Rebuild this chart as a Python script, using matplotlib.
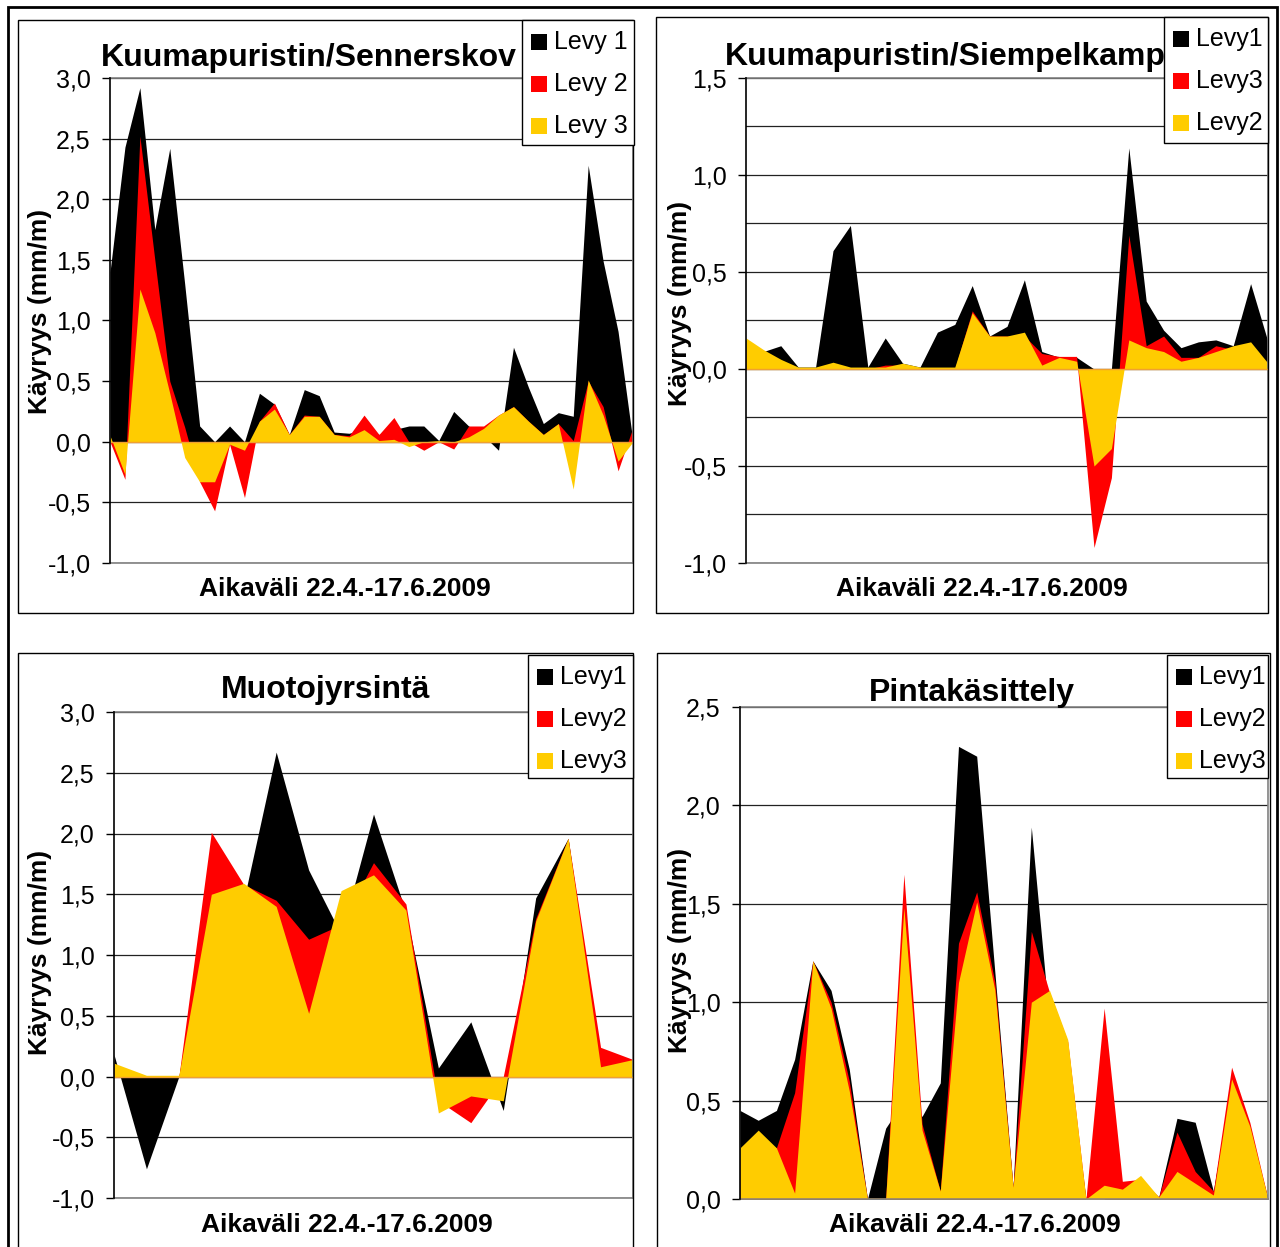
import matplotlib.pyplot as plt
from matplotlib.patches import Rectangle
import numpy as np

plt.rcParams['font.family'] = ['Liberation Sans', 'DejaVu Sans']

# Kuumapuristin/Sennerskov
sen_levy1 = [1.40, 2.43, 2.92, 1.75, 2.42, 1.30, 0.13, 0.00, 0.13, 0.00, 0.40, 0.31, 0.06, 0.43, 0.38, 0.08, 0.07, 0.10,
             0.06, 0.10, 0.13, 0.13, 0.01, 0.25, 0.13, 0.05, -0.07, 0.78, 0.45, 0.15, 0.24, 0.21, 2.28, 1.49, 0.91, 0.00]
sen_levy2 = [0.00, -0.31, 2.52, 1.50, 0.50, 0.12, -0.33, -0.57, -0.02, -0.46, 0.17, 0.32, 0.06, 0.22, 0.21, 0.06, 0.05, 0.22,
             0.06, 0.20, 0.00, -0.07, 0.00, -0.06, 0.13, 0.13, 0.22, 0.29, 0.17, 0.06, 0.15, 0.01, 0.50, 0.29, -0.24, 0.12]
sen_levy3 = [0.05, -0.27, 1.26, 0.90, 0.40, -0.13, -0.33, -0.33, -0.02, -0.07, 0.17, 0.27, 0.06, 0.21, 0.21, 0.06, 0.04, 0.10,
             0.01, 0.02, -0.04, 0.00, 0.01, 0.00, 0.04, 0.11, 0.22, 0.29, 0.17, 0.06, 0.15, -0.39, 0.51, 0.22, -0.16, 0.00]

# Kuumapuristin/Siempelkamp (legend order Levy1, Levy3, Levy2)
sie_levy1 = [0.15, 0.09, 0.12, 0.01, 0.01, 0.61, 0.74, 0.01, 0.16, 0.03, 0.01, 0.19, 0.23, 0.43, 0.17, 0.22, 0.46, 0.09,
             0.06, 0.06, 0.00, 0.00, 1.14, 0.35, 0.20, 0.11, 0.14, 0.15, 0.12, 0.44, 0.14]
sie_levy3 = [0.10, 0.05, 0.03, 0.00, 0.00, 0.02, 0.00, 0.00, 0.02, 0.02, 0.00, 0.00, 0.00, 0.30, 0.17, 0.17, 0.17, 0.08,
             0.065, 0.065, -0.92, -0.56, 0.69, 0.12, 0.17, 0.06, 0.06, 0.12, 0.10, 0.10, 0.02]
sie_levy2 = [0.16, 0.10, 0.05, 0.01, 0.01, 0.035, 0.01, 0.01, 0.01, 0.03, 0.01, 0.01, 0.01, 0.29, 0.17, 0.17, 0.19, 0.02,
             0.06, 0.04, -0.50, -0.41, 0.15, 0.11, 0.09, 0.04, 0.06, 0.09, 0.12, 0.14, 0.03]

# Muotojyrsintä
muo_levy1 = [0.18, -0.76, 0.00, 1.50, 1.45, 2.67, 1.70, 1.17, 2.16, 1.35, 0.07, 0.45, -0.28, 1.47, 1.96, 0.10, 0.10]
muo_levy2 = [0.10, 0.00, 0.00, 2.01, 1.58, 1.45, 1.13, 1.25, 1.76, 1.42, -0.20, -0.38, 0.00, 1.30, 1.96, 0.24, 0.14]
muo_levy3 = [0.11, 0.01, 0.01, 1.50, 1.59, 1.40, 0.52, 1.53, 1.66, 1.37, -0.30, -0.16, -0.20, 1.28, 1.96, 0.08, 0.14]

# Pintakäsittely
pin_levy1 = [0.45, 0.40, 0.45, 0.71, 1.21, 1.06, 0.66, 0.00, 0.36, 0.50, 0.42, 0.59, 2.30, 2.25, 1.15, 0.06, 1.89, 0.90,
             0.70, 0.00, 0.00, 0.05, 0.10, 0.01, 0.41, 0.39, 0.04, 0.60, 0.35, 0.00]
pin_levy2 = [0.20, 0.30, 0.26, 0.54, 1.21, 1.00, 0.60, 0.00, 0.00, 1.65, 0.38, 0.04, 1.30, 1.56, 1.10, 0.06, 1.36, 1.05,
             0.80, 0.00, 0.97, 0.09, 0.10, 0.01, 0.34, 0.14, 0.04, 0.67, 0.39, 0.00]
pin_levy3 = [0.26, 0.35, 0.26, 0.03, 1.21, 0.97, 0.55, 0.00, 0.00, 1.48, 0.35, 0.04, 1.10, 1.51, 1.06, 0.06, 1.00, 1.06,
             0.81, 0.00, 0.07, 0.05, 0.12, 0.01, 0.14, 0.08, 0.02, 0.61, 0.37, 0.00]

colors = ['#000000', '#ff0000', '#ffcc00']
ylabel = 'Käyryys (mm/m)'
xlabel = 'Aikaväli 22.4.-17.6.2009'

W, H = 1280, 1247
fig = plt.figure(figsize=(W / 100, H / 100), dpi=100)


def fx(px):
    return px / W


def fy(py):
    return 1 - py / H


def frame(l, t, r, b, lw=1.0):
    fig.patches.append(Rectangle((fx(l), fy(b)), (r - l) / W, (b - t) / H, transform=fig.transFigure,
                                 fill=False, edgecolor='black', lw=lw, zorder=5))


def panel(rect, series, names, ylim, step, grid_step, title, title_xy, ylab_xy, xlab_xy, leg):
    l, t, r, b = rect
    ax = fig.add_axes([fx(l), fy(b), (r - l) / W, (b - t) / H])
    x = np.arange(len(series[0]))
    for y, c in zip(series, colors):
        ax.fill_between(x, 0, y, color=c, lw=0, zorder=2)
    ax.set_xlim(0, len(x) - 1)
    ax.set_ylim(*ylim)
    for g in np.arange(ylim[0], ylim[1] + 1e-6, grid_step):
        ax.axhline(g, color='#222222', lw=0.9, zorder=1)
    ax.axhline(0, color='#f0a030', lw=1.0, zorder=3)
    ticks = np.arange(ylim[0], ylim[1] + 1e-6, step)
    ax.set_yticks(ticks)
    ax.set_yticklabels([('%.1f' % v).replace('.', ',') for v in ticks])
    ax.set_xticks([])
    ax.tick_params(axis='y', direction='out', length=6, width=1, labelsize=18, pad=8)
    for s in ['top', 'right', 'bottom']:
        ax.spines[s].set_color('#808080')
        ax.spines[s].set_linewidth(1.2)
    ax.spines['left'].set_color('black')
    ax.spines['left'].set_linewidth(1.2)
    ax.spines['left'].set_zorder(4)

    fig.text(fx(title_xy[0]), fy(title_xy[1]), title, fontsize=23, fontweight='bold', ha='center', va='center')
    fig.text(fx(ylab_xy[0]), fy(ylab_xy[1]), ylabel, fontsize=19, fontweight='bold', rotation=90,
             ha='center', va='center')
    fig.text(fx(xlab_xy[0]), fy(xlab_xy[1]), xlabel, fontsize=19, fontweight='bold', ha='center', va='center')

    # legend box
    ll, lt, lr, lb = leg
    fig.patches.append(Rectangle((fx(ll), fy(lb)), (lr - ll) / W, (lb - lt) / H, transform=fig.transFigure,
                                 facecolor='white', edgecolor='black', lw=1, zorder=6))
    for i, (n, c) in enumerate(zip(names, colors)):
        yc = lt + 22 + i * 42
        fig.patches.append(Rectangle((fx(ll + 9), fy(yc + 8)), 16 / W, 16 / H, transform=fig.transFigure,
                                     facecolor=c, edgecolor='none', zorder=7))
        fig.text(fx(ll + 32), fy(yc), n, fontsize=18, ha='left', va='center', zorder=8)
    return ax


# outer border and chart frames
frame(8, 7, 1277, 1265, lw=2)
frame(18, 20, 633, 613)
frame(656, 17, 1268, 613)
frame(18, 653, 633, 1265)
frame(657, 653, 1270, 1265)

panel((110, 78, 633, 563), [sen_levy1, sen_levy2, sen_levy3], ['Levy 1', 'Levy 2', 'Levy 3'],
      (-1.0, 3.0), 0.5, 0.5, 'Kuumapuristin/Sennerskov', (309, 58), (40, 311), (345, 589), (522, 20, 634, 145))

panel((746, 78, 1268, 563), [sie_levy1, sie_levy3, sie_levy2], ['Levy1', 'Levy3', 'Levy2'],
      (-1.0, 1.5), 0.5, 0.25, 'Kuumapuristin/Siempelkamp', (945, 57), (680, 303), (982, 589), (1164, 17, 1268, 143))

panel((114, 712, 633, 1198), [muo_levy1, muo_levy2, muo_levy3], ['Levy1', 'Levy2', 'Levy3'],
      (-1.0, 3.0), 0.5, 0.5, 'Muotojyrsintä', (326, 690), (40, 952), (347, 1225), (528, 655, 633, 778))

panel((740, 707, 1268, 1199), [pin_levy1, pin_levy2, pin_levy3], ['Levy1', 'Levy2', 'Levy3'],
      (0.0, 2.5), 0.5, 0.5, 'Pintakäsittely', (972, 693), (680, 950), (975, 1225), (1167, 655, 1268, 778))

fig.savefig('out.png', dpi=100, facecolor='white')
